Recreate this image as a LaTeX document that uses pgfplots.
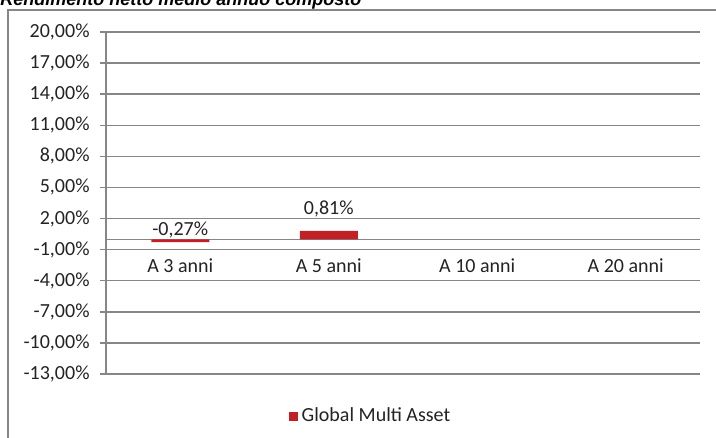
\documentclass[border=0pt]{standalone}
\usepackage{pgfplots}
\pgfplotsset{compat=1.18}
\usepackage{fontspec}
\setmainfont{Carlito}
\newfontfamily\titlefont{Liberation Sans}
\definecolor{barred}{RGB}{192,32,38}
\definecolor{gridgray}{RGB}{134,134,134}
\definecolor{txt}{RGB}{35,35,35}
\begin{document}
\begin{tikzpicture}
\useasboundingbox (0,0) rectangle (358pt,219pt);
\clip (0,0) rectangle (358pt,219pt);
\draw[gridgray, line width=0.7pt] (4pt,-5pt) rectangle (362pt,214pt);
\node[anchor=base west, inner sep=0pt, text=black, font=\titlefont\bfseries\itshape\fontsize{9}{10}\selectfont] at (0pt,216pt) {Rendimento netto medio annuo composto};
\begin{axis}[
  at={(53pt,32pt)}, anchor=south west,
  scale only axis, width=297pt, height=171pt,
  xmin=-0.5, xmax=3.5, ymin=-13, ymax=20,
  axis x line*=middle, axis y line*=left,
  axis line style={gridgray, line width=0.75pt},
  ymajorgrids, grid style={gridgray, line width=0.75pt},
  ytick={-13,-10,...,20},
  yticklabels={{-13,00\%},{-10,00\%},{-7,00\%},{-4,00\%},{-1,00\%},{2,00\%},{5,00\%},{8,00\%},{11,00\%},{14,00\%},{17,00\%},{20,00\%}},
  xtick={0,1,2,3},
  xticklabels={A 3 anni, A 5 anni, A 10 anni, A 20 anni},
  xtick style={draw=none},
  ytick style={gridgray, line width=0.75pt},
  tick align=outside, major tick length=3pt,
  tick label style={font=\fontsize{10}{12}\selectfont, text=txt},
  xticklabel style={anchor=base, yshift=-13.5pt},
  yticklabel style={xshift=-1.7pt},
  legend style={at={(rel axis cs:0.447,-0.123)}, anchor=center, draw=none, fill=none,
    font=\fontsize{10}{12}\selectfont, text=txt},
]
\addplot[ybar, bar width=29pt, fill=barred, draw=none,
  legend image code/.code={\fill[barred] (0pt,-2.25pt) rectangle (4.5pt,2.25pt);}]
  coordinates {(0,-0.27) (1,0.81)};
\addlegendentry{Global Multi Asset}
\node[anchor=base, font=\fontsize{10}{12}\selectfont, text=txt] at (axis cs:0,0.39) {-0,27\%};
\node[anchor=base, font=\fontsize{10}{12}\selectfont, text=txt] at (axis cs:1,2.41) {0,81\%};
\end{axis}
\end{tikzpicture}
\end{document}
